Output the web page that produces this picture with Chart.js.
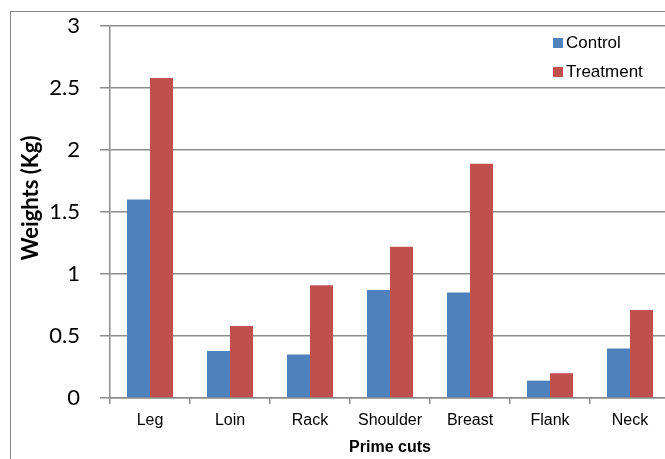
<!DOCTYPE html>
<html>
<head>
<meta charset="utf-8">
<script src="https://cdn.jsdelivr.net/npm/chart.js@4/dist/chart.umd.min.js"></script>
<style>
  html, body { margin: 0; padding: 0; background: #fff; overflow: hidden; }
  #wrap { position: relative; width: 665px; height: 459px; overflow: hidden; }
  #frame { position: absolute; left: 10px; top: 11px; width: 700px; height: 500px;
           border-left: 1.5px solid #888; border-top: 1.5px solid #888; }
  #c { position: absolute; left: 0; top: 0; }
</style>
</head>
<body>
<div id="wrap">
  <div id="frame"></div>
  <canvas id="c" width="672" height="459"></canvas>
</div>
<script>
// Data
const cuts = ['Leg', 'Loin', 'Rack', 'Shoulder', 'Breast', 'Flank', 'Neck'];
const control = [1.60, 0.38, 0.35, 0.87, 0.85, 0.14, 0.40];
const treatment = [2.58, 0.58, 0.91, 1.22, 1.89, 0.20, 0.71];
const yTicks = [0, 0.5, 1, 1.5, 2, 2.5, 3];
const yTitle = 'Weights (Kg)';

const blue = '#4F81BD';
const red = '#C0504D';
const gridGrey = '#8c8c8c';

// legend inside the plot (top right) + y axis title placed like the original
const extras = {
  id: 'extras',
  afterDraw(chart) {
    const ctx = chart.ctx;
    ctx.save();
    ctx.font = '17px "Liberation Sans", Arial, sans-serif';
    ctx.textBaseline = 'middle';
    chart.data.datasets.forEach((ds, i) => {
      const y = 43 + i * 29;
      ctx.fillStyle = ds.backgroundColor;
      ctx.fillRect(553, y - 5, 10, 10);
      ctx.fillStyle = '#000';
      ctx.fillText(ds.label, 566, y);
    });
    ctx.translate(31, 198);
    ctx.rotate(-Math.PI / 2);
    ctx.textAlign = 'center';
    ctx.font = 'bold 22px Lato, "Open Sans", sans-serif';
    ctx.fillText(yTitle, 0, 0);
    ctx.restore();
  }
};

new Chart(document.getElementById('c'), {
  type: 'bar',
  data: {
    labels: cuts,
    datasets: [
      { label: 'Control', data: control, backgroundColor: blue },
      { label: 'Treatment', data: treatment, backgroundColor: red }
    ]
  },
  options: {
    responsive: false,
    animation: false,
    layout: { padding: { top: 26, right: 2, left: 0, bottom: 0 } },
    datasets: { bar: { categoryPercentage: 0.575, barPercentage: 1.0 } },
    plugins: {
      legend: { display: false },
      tooltip: { enabled: false }
    },
    scales: {
      x: {
        grid: { drawOnChartArea: false, offset: true, tickLength: 6, color: gridGrey, lineWidth: 1.5 },
        border: { color: gridGrey, width: 1.5 },
        ticks: { color: '#000', padding: 7, font: { family: '"Liberation Sans", Arial, sans-serif', size: 16 } },
        title: {
          display: true, text: 'Prime cuts', color: '#000',
          font: { family: '"Liberation Sans", Arial, sans-serif', size: 16, weight: 'bold' },
          padding: { top: 0, bottom: 2 }
        },
        afterFit(scale) { scale.height = 61; }
      },
      y: {
        min: 0, max: 3,
        afterBuildTicks(scale) { scale.ticks = yTicks.map(v => ({ value: v })); },
        grid: { color: gridGrey, lineWidth: 1.5, tickLength: 10 },
        border: { color: gridGrey, width: 1.5 },
        ticks: {
          color: '#000', padding: 20,
          font: { family: 'Lato, "Open Sans", sans-serif', size: 22 },
          callback: v => String(v)
        },
        afterFit(scale) {
          scale.width = 110;
          scale.paddingTop = 0;
          scale.paddingBottom = 0;
        }
      }
    }
  },
  plugins: [extras]
});
</script>
</body>
</html>
